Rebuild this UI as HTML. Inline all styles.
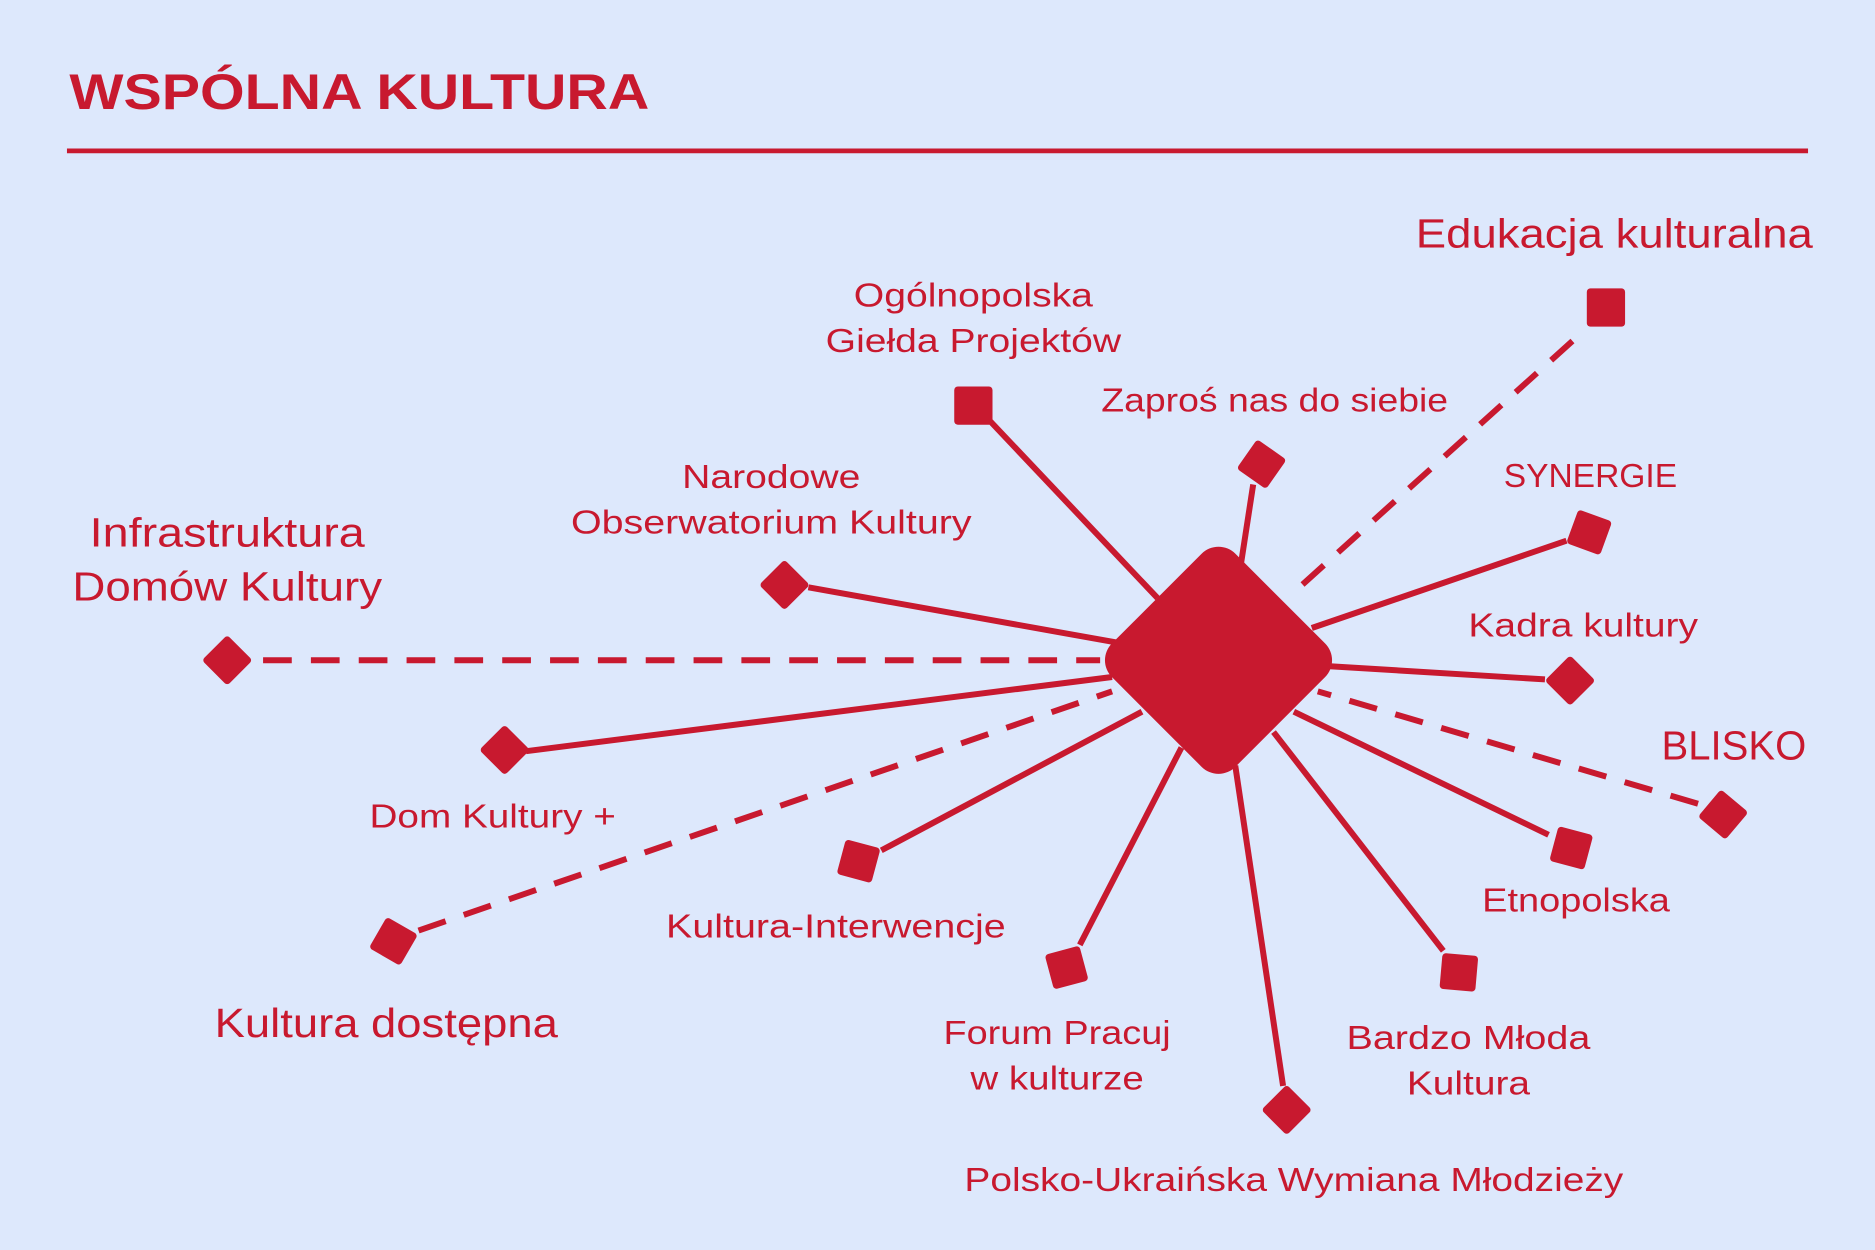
<!DOCTYPE html>
<html><head><meta charset="utf-8">
<style>
html,body{margin:0;padding:0;background:#dde8fc;}
svg{display:block;}
text{font-family:"Liberation Sans",sans-serif;fill:#c8192f;}
</style></head>
<body>
<svg width="1875" height="1250" viewBox="0 0 1568 1045" xmlns="http://www.w3.org/2000/svg">
<rect width="1568" height="1045" fill="#dde8fc"/>
<text x="58" y="91" font-size="42" font-weight="bold" textLength="485" lengthAdjust="spacingAndGlyphs">WSPÓLNA KULTURA</text>
<line x1="56" y1="126" x2="1512" y2="126" stroke="#c8192f" stroke-width="4"/>
<g stroke="#c8192f" stroke-width="5" fill="none">
<line x1="828" y1="352" x2="968" y2="500"/>
<line x1="1048" y1="405" x2="1038" y2="470"/>
<line x1="1310" y1="452" x2="1097" y2="525"/>
<line x1="1292" y1="568" x2="1112" y2="557"/>
<line x1="1295" y1="698" x2="1082" y2="595"/>
<line x1="1207" y1="795" x2="1065" y2="612"/>
<line x1="1073" y1="908" x2="1033" y2="640"/>
<line x1="903" y1="790" x2="988" y2="625"/>
<line x1="737" y1="711" x2="955" y2="595"/>
<line x1="440" y1="628" x2="930" y2="566"/>
<line x1="676" y1="491" x2="933" y2="537"/>
<g stroke-dasharray="24 16">
<line x1="1315" y1="285" x2="1080" y2="497"/>
<line x1="1420" y1="672" x2="1102" y2="578"/>
<line x1="350" y1="778" x2="930" y2="578"/>
<line x1="220" y1="552" x2="920" y2="552"/>
</g>
</g>
<g fill="#c8192f">
<rect x="-73" y="-73" width="146" height="146" rx="20" transform="translate(1019,552) rotate(45)"/>
<rect x="-16" y="-16" width="32" height="32" rx="3" transform="translate(814,339)"/>
<rect x="-16" y="-16" width="32" height="32" rx="3" transform="translate(1343,257)"/>
<rect x="-15" y="-15" width="30" height="30" rx="3" transform="translate(1055,388) rotate(35)"/>
<rect x="-15" y="-15" width="30" height="30" rx="3" transform="translate(1329,445) rotate(20)"/>
<rect x="-15" y="-15" width="30" height="30" rx="3" transform="translate(1313,569) rotate(45)"/>
<rect x="-15" y="-15" width="30" height="30" rx="3" transform="translate(1441,681) rotate(40)"/>
<rect x="-15" y="-15" width="30" height="30" rx="3" transform="translate(1314,709) rotate(15)"/>
<rect x="-15" y="-15" width="30" height="30" rx="3" transform="translate(1220,813) rotate(5)"/>
<rect x="-15" y="-15" width="30" height="30" rx="3" transform="translate(1076,928) rotate(45)"/>
<rect x="-15" y="-15" width="30" height="30" rx="3" transform="translate(892,809) rotate(-15)"/>
<rect x="-15" y="-15" width="30" height="30" rx="3" transform="translate(718,720) rotate(15)"/>
<rect x="-15" y="-15" width="30" height="30" rx="3" transform="translate(329,787) rotate(30)"/>
<rect x="-15" y="-15" width="30" height="30" rx="3" transform="translate(422,627) rotate(45)"/>
<rect x="-15" y="-15" width="30" height="30" rx="3" transform="translate(190,552) rotate(45)"/>
<rect x="-15" y="-15" width="30" height="30" rx="3" transform="translate(656,489) rotate(45)"/>
</g>
<g font-size="28" text-anchor="middle" lengthAdjust="spacingAndGlyphs">
<text x="814" y="256" textLength="200" lengthAdjust="spacingAndGlyphs">Ogólnopolska</text>
<text x="814" y="294" textLength="247" lengthAdjust="spacingAndGlyphs">Giełda Projektów</text>
<text x="1066" y="344" textLength="290" lengthAdjust="spacingAndGlyphs">Zaproś nas do siebie</text>
<text x="1330" y="407" textLength="145" lengthAdjust="spacingAndGlyphs">SYNERGIE</text>
<text x="1324" y="532" textLength="192" lengthAdjust="spacingAndGlyphs">Kadra kultury</text>
<text x="1318" y="762" textLength="157" lengthAdjust="spacingAndGlyphs">Etnopolska</text>
<text x="1228" y="877" textLength="204" lengthAdjust="spacingAndGlyphs">Bardzo Młoda</text>
<text x="1228" y="915" textLength="103" lengthAdjust="spacingAndGlyphs">Kultura</text>
<text x="1082" y="996" textLength="551" lengthAdjust="spacingAndGlyphs">Polsko-Ukraińska Wymiana Młodzieży</text>
<text x="884" y="873" textLength="190" lengthAdjust="spacingAndGlyphs">Forum Pracuj</text>
<text x="884" y="911" textLength="145" lengthAdjust="spacingAndGlyphs">w kulturze</text>
<text x="699" y="784" textLength="284" lengthAdjust="spacingAndGlyphs">Kultura-Interwencje</text>
<text x="412" y="692" textLength="206" lengthAdjust="spacingAndGlyphs">Dom Kultury +</text>
<text x="645" y="408" textLength="149" lengthAdjust="spacingAndGlyphs">Narodowe</text>
<text x="645" y="446" textLength="335" lengthAdjust="spacingAndGlyphs">Obserwatorium Kultury</text>
</g>
<g font-size="34" text-anchor="middle">
<text x="1350" y="207" textLength="332" lengthAdjust="spacingAndGlyphs">Edukacja kulturalna</text>
<text x="1450" y="635" textLength="121" lengthAdjust="spacingAndGlyphs">BLISKO</text>
<text x="190" y="457" textLength="230" lengthAdjust="spacingAndGlyphs">Infrastruktura</text>
<text x="190" y="502" textLength="259" lengthAdjust="spacingAndGlyphs">Domów Kultury</text>
<text x="323" y="867" textLength="287" lengthAdjust="spacingAndGlyphs">Kultura dostępna</text>
</g>
</svg>
</body></html>
